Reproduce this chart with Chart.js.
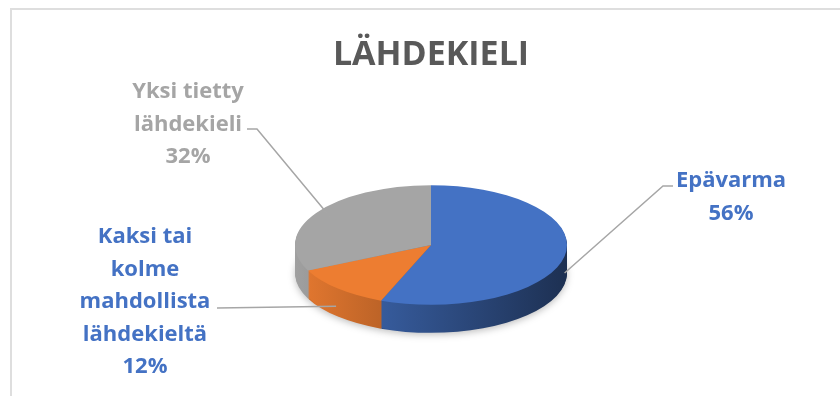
<!DOCTYPE html>
<html>
<head>
<meta charset="utf-8">
<script src="https://cdn.jsdelivr.net/npm/chart.js@4.4.1/dist/chart.umd.min.js"></script>
<style>
  html, body { margin: 0; padding: 0; background: #fff; overflow: hidden; }
  #wrap { position: relative; width: 840px; height: 396px; }
  #frame { position: absolute; left: 10px; top: 8px; width: 900px; height: 500px;
           border-top: 2px solid #dedede; border-left: 2px solid #dedede; }
  #myChart { position: absolute; left: 0; top: 0; }
</style>
</head>
<body>
<div id="wrap">
  <div id="frame"></div>
  <canvas id="myChart" width="840" height="396"></canvas>
</div>
<script>
// data
const categories = ['Epävarma', 'Kaksi tai kolme mahdollista lähdekieltä', 'Yksi tietty lähdekieli'];
const values = [56, 12, 32];
const labelLines = [['Epävarma'], ['Kaksi tai', 'kolme', 'mahdollista', 'lähdekieltä'], ['Yksi tietty', 'lähdekieli']];
const sliceColors = ['#4472C4', '#ED7D31', '#A5A5A5'];
const textColors = ['#4472C4', '#4472C4', '#A5A5A5'];

// layout of the flattened pie and the labels
const PIE_CY = 245;      // screen centre of the top face
const SQUASH = 0.44;     // vertical scale of the top face
const DEPTH = 28;        // thickness of the pie side
const FONT = '"Open Sans", "DejaVu Sans", sans-serif';
const labelPos = [
    { x: 731, y: 187, reach: 1.0, elbow: [[673, 186], [663, 186]] },
    { x: 145, y: 243, reach: 1.02, elbow: [[217, 308]] },
    { x: 188, y: 98, reach: 0.88, elbow: [[247, 129], [257, 129]] }
];

function shade(hex, f) {
    const n = parseInt(hex.slice(1), 16);
    const r = Math.round(((n >> 16) & 255) * f);
    const g = Math.round(((n >> 8) & 255) * f);
    const b = Math.round((n & 255) * f);
    return 'rgb(' + r + ',' + g + ',' + b + ')';
}

const pie3d = {
    id: 'pie3d',
    beforeDatasetsDraw(chart) {
        const ctx = chart.ctx;
        const arcs = chart.getDatasetMeta(0).data;
        const cy = arcs[0].y;
        ctx.save();
        ctx.translate(0, PIE_CY);
        ctx.scale(1, SQUASH);
        ctx.translate(0, -cy);
        // side of the pie: stacked copies shifted down
        for (let d = DEPTH; d >= 1; d--) {
            arcs.forEach(function (el, i) {
                const grad = ctx.createLinearGradient(el.x - el.outerRadius, 0, el.x + el.outerRadius, 0);
                grad.addColorStop(0, shade(sliceColors[i], 0.97));
                grad.addColorStop(1, shade(sliceColors[i], 0.42));
                ctx.save();
                if (d === DEPTH) {
                    ctx.shadowColor = 'rgba(0,0,0,0.25)';
                    ctx.shadowBlur = 7;
                    ctx.shadowOffsetY = 2;
                }
                ctx.beginPath();
                ctx.moveTo(el.x, el.y + d / SQUASH);
                ctx.arc(el.x, el.y + d / SQUASH, el.outerRadius, el.startAngle, el.endAngle);
                ctx.closePath();
                ctx.fillStyle = grad;
                ctx.fill();
                ctx.restore();
            });
        }
    },
    afterDatasetsDraw(chart) {
        chart.ctx.restore();
    },
    afterDraw(chart) {
        const ctx = chart.ctx;
        const arcs = chart.getDatasetMeta(0).data;
        ctx.save();
        arcs.forEach(function (el, i) {
            const pos = labelPos[i];
            const mid = (el.startAngle + el.endAngle) / 2;
            const r = el.outerRadius * pos.reach;
            const ax = el.x + r * Math.cos(mid);
            let ay = PIE_CY + SQUASH * r * Math.sin(mid);
            if (Math.sin(mid) > 0) ay += DEPTH * 0.6;
            // leader line
            ctx.beginPath();
            ctx.strokeStyle = '#A6A6A6';
            ctx.lineWidth = 1.5;
            ctx.moveTo(pos.elbow[0][0], pos.elbow[0][1]);
            for (let k = 1; k < pos.elbow.length; k++) ctx.lineTo(pos.elbow[k][0], pos.elbow[k][1]);
            ctx.lineTo(ax, ay);
            ctx.stroke();
            // text
            const lines = labelLines[i].concat([values[i] + '%']);
            ctx.fillStyle = textColors[i];
            ctx.font = 'bold 22px ' + FONT;
            ctx.textAlign = 'center';
            ctx.textBaseline = 'alphabetic';
            lines.forEach(function (t, j) {
                ctx.fillText(t, pos.x, pos.y + j * 32.5);
            });
        });
        ctx.restore();
    }
};

const data = {
    labels: categories,
    datasets: [{
        data: values,
        backgroundColor: sliceColors,
        borderWidth: 0,
        clip: false
    }]
};

const config = {
    type: 'pie',
    data,
    options: {
        responsive: false,
        animation: false,
        events: [],
        layout: { padding: { left: 295, right: 273, top: 0, bottom: 20 } },
        plugins: {
            legend: { display: false },
            tooltip: { enabled: false },
            title: {
                display: true,
                text: 'LÄHDEKIELI',
                color: '#595959',
                font: { family: FONT, size: 34, weight: 'bold' },
                padding: { top: 35, bottom: 0 }
            }
        }
    },
    plugins: [pie3d]
};

var myChart = new Chart(document.getElementById('myChart'), config);
</script>
</body>
</html>
